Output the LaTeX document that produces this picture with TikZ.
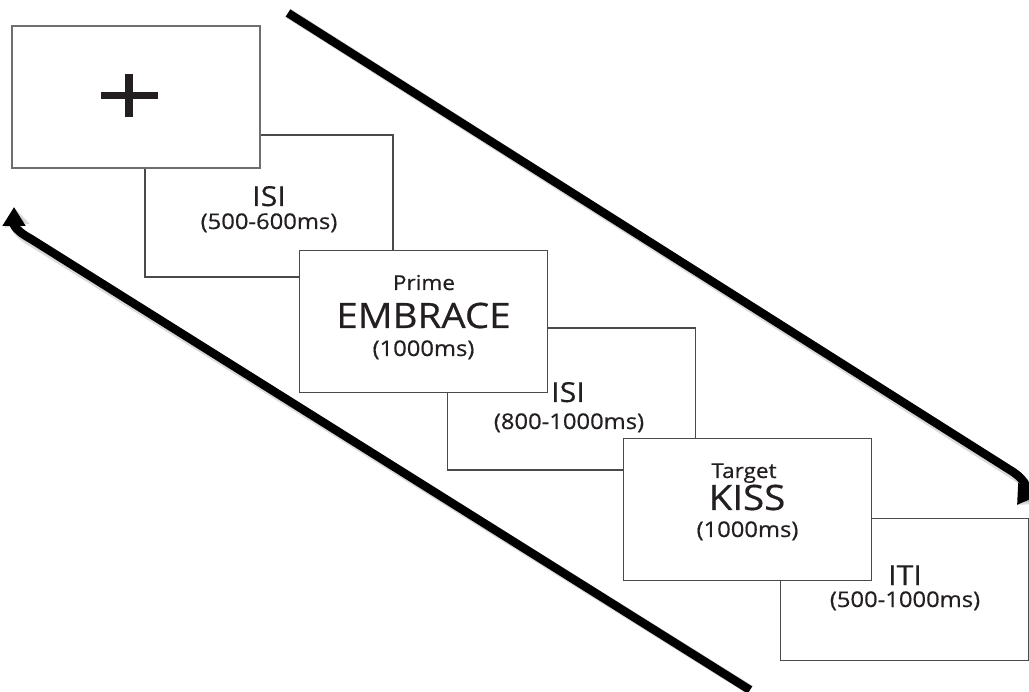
\documentclass[tikz,border=0pt]{standalone}
\usepackage{fontspec}
\newfontfamily\lab[FakeStretch=1.1,FakeBold=0.5]{Open Sans}
\usetikzlibrary{arrows.meta}
\definecolor{ink}{HTML}{231F20}
\definecolor{frame}{HTML}{4A4A4A}
\begin{document}
\begin{tikzpicture}[x=1pt,y=-1pt,
  panel/.style={draw=frame, line width=1.2pt, fill=white, inner sep=0pt, outer sep=0pt,
                minimum width=248pt, minimum height=142pt},
  txt/.style={text=ink, anchor=base, inner sep=0pt},
  caption/.style={txt, font=\lab\fontsize{20.5}{24}\selectfont},
  isi/.style={txt, font=\lab\fontsize{27.5}{30}\selectfont},
  word/.style={txt, font=\lab\fontsize{35}{40}\selectfont},
  dur/.style={txt, font=\lab\fontsize{21.6}{24}\selectfont},
  cycle/.style={line width=8.5pt, draw=black, -{Triangle[length=19pt,width=22pt]}},
  cycleshade/.style={line width=10pt, draw=black, opacity=0.15, -{Triangle[length=19pt,width=24pt]}},
]
\useasboundingbox (0,0) rectangle (1029,692);

% blank intervals (drawn first, they sit behind the stimulus screens)
\node[panel] (isiA) at (269,206) {};
\node[panel] (isiB) at (571.5,399) {};
\node[panel] (iti)  at (904.5,589.5) {};

% stimulus screens
\node[panel, draw=frame!80] (fix) at (136,97) {};
\node[panel] (prime)  at (423.5,321.5) {};
\node[panel] (target) at (747.5,509.5) {};

% fixation cross
\coordinate (fixc) at (129,96);
\draw[ink, line width=7pt] ([xshift=-28.5pt]fixc) -- ([xshift=28.5pt]fixc);
\draw[ink, line width=8pt] ([yshift=-21.5pt]fixc) -- ([yshift=21.5pt]fixc);

% labels
\node[isi] (isiAt) at (269,206) {ISI};
\node[dur] (isiAd) at (269,229) {(500-600ms)};

\node[caption] (primet) at (424,290) {Prime};
\node[word] (primew) at (423.5,328) {EMBRACE};
\node[dur] (primed) at (423.5,356) {(1000ms)};

\node[isi] (isiBt) at (568,402) {ISI};
\node[dur] (isiBd) at (569,429) {(800-1000ms)};

\node[caption] (targett) at (744,478) {Target};
\node[word] (targetw) at (747,510) {KISS};
\node[dur] (targetd) at (747.5,537) {(1000ms)};

\node[isi] (itit) at (905,585) {ITI};
\node[dur] (itid) at (905,607) {(500-1000ms)};

% trial sequence arrow and return arrow
\coordinate (fwdS) at (288,13);
\coordinate (fwdE) at (1017,505);
\coordinate (backS) at (750,690);
\coordinate (backE) at (14,207);

\begin{scope}[shift={(3,4)}]
\draw[cycleshade] (fwdS) -- (1010,470) .. controls (1030,482) and (1026,492) .. (fwdE);
\draw[cycleshade] (backS) -- (31,239) .. controls (11,228) and (14,222) .. (backE);
\end{scope}
\draw[cycle] (fwdS) -- (1010,470) .. controls (1030,482) and (1026,492) .. (fwdE);
\draw[cycle] (backS) -- (31,239) .. controls (11,228) and (14,222) .. (backE);
\end{tikzpicture}
\end{document}
